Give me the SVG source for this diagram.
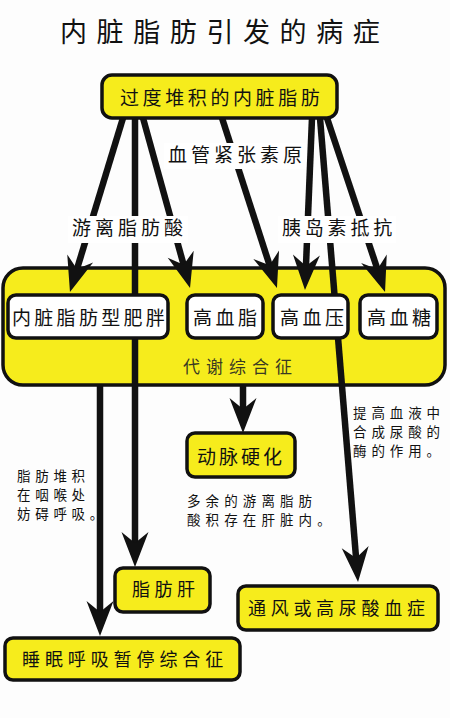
<svg xmlns="http://www.w3.org/2000/svg" width="450" height="718" viewBox="0 0 450 718">
<defs>
<style>
text{font-family:"Noto Sans CJK SC","Noto Sans",sans-serif;fill:#111;}
.ybox{fill:#f6ec1c;stroke:#111;stroke-width:3.5;}
.wbox{fill:#fff;stroke:#111;stroke-width:3.5;}
.t19{font-size:19px;letter-spacing:3.5px;}
.t18{font-size:18px;letter-spacing:4.7px;}
.t14{font-size:13.5px;letter-spacing:4.9px;}
.conn line{stroke:#111;stroke-width:6.5;marker-end:url(#ah);}
.lbg{fill:#fff;}
</style>
<marker id="ah" markerUnits="userSpaceOnUse" markerWidth="37" markerHeight="28" viewBox="-36 -14 37 28" refX="-20" refY="0" orient="auto">
<path d="M0,0 L-35,-13.5 L-24,0 L-35,13.5 Z" fill="#111"/>
</marker>
</defs>
<rect width="450" height="718" fill="#fdfdfd"/>

<text id="title" x="60" y="42" style="font-size:27px;letter-spacing:9.6px;">内脏脂肪引发的病症</text>

<g id="metabolic">
<rect class="ybox" x="3" y="268" width="442" height="117" rx="20"/>
<text x="183" y="373" style="font-size:17px;letter-spacing:6px;fill:#3a3a22;">代谢综合征</text>
</g>

<g id="connectors" class="conn">
<line x1="123" y1="118" x2="75.8" y2="272.9"/>
<line x1="135" y1="118" x2="135" y2="547"/>
<line x1="143" y1="118" x2="184.7" y2="268.7"/>
<line x1="222" y1="118" x2="270.8" y2="269"/>
<line x1="312" y1="118" x2="305.8" y2="270"/>
<line x1="320" y1="118" x2="356.4" y2="562"/>
<line x1="327" y1="118" x2="378.7" y2="273"/>
<line x1="100" y1="385" x2="100" y2="616"/>
<line x1="243" y1="385" x2="243" y2="413"/>
</g>

<g id="source">
<rect class="ybox" x="102" y="75" width="235" height="43" rx="10"/>
<text class="t19" x="120" y="105" style="letter-spacing:3.6px;">过度堆积的内脏脂肪</text>
</g>

<g id="label-angiotensinogen">
<rect class="lbg" x="164" y="143" width="142" height="26"/>
<text class="t19" x="168" y="162" style="letter-spacing:4px;">血管紧张素原</text>
</g>
<g id="label-ffa">
<rect class="lbg" x="68" y="216" width="120" height="27"/>
<text class="t19" x="72" y="235" style="letter-spacing:4px;">游离脂肪酸</text>
</g>
<g id="label-insulin">
<rect class="lbg" x="278" y="216" width="118" height="27"/>
<text class="t19" x="282" y="235" style="letter-spacing:3.8px;">胰岛素抵抗</text>
</g>

<g id="obesity">
<rect class="wbox" x="8" y="295" width="160" height="43" rx="8"/>
<text class="t19" x="12" y="325" style="letter-spacing:3.3px;">内脏脂肪型肥胖</text>
</g>
<g id="hyperlipidemia">
<rect class="wbox" x="187" y="295" width="76" height="43" rx="8"/>
<text class="t19" x="193" y="325">高血脂</text>
</g>
<g id="hypertension">
<rect class="wbox" x="273" y="295" width="75" height="43" rx="8"/>
<text class="t19" x="280" y="325">高血压</text>
</g>
<g id="hyperglycemia">
<rect class="wbox" x="360" y="295" width="77" height="43" rx="8"/>
<text class="t19" x="367" y="325">高血糖</text>
</g>

<g id="atherosclerosis">
<rect class="ybox" x="187" y="433" width="108" height="44" rx="8"/>
<text class="t19" x="197" y="464" style="letter-spacing:3px;">动脉硬化</text>
</g>

<g id="note-liver">
<text class="t14" style="letter-spacing:5.1px;"><tspan x="187" y="506">多余的游离脂肪</tspan><tspan x="187" y="525">酸积存在肝脏内。</tspan></text>
</g>
<g id="note-throat">
<text class="t14" style="letter-spacing:4.7px;"><tspan x="17" y="481">脂肪堆积</tspan><tspan x="17" y="500">在咽喉处</tspan><tspan x="17" y="519">妨碍呼吸。</tspan></text>
</g>
<g id="note-uric">
<text class="t14"><tspan x="353" y="418">提高血液中</tspan><tspan x="353" y="437">合成尿酸的</tspan><tspan x="353" y="456">酶的作用。</tspan></text>
</g>

<g id="fatty-liver">
<rect class="ybox" x="115" y="568" width="95" height="44" rx="8"/>
<text class="t18" x="132" y="596" style="letter-spacing:4.5px;">脂肪肝</text>
</g>
<g id="gout">
<rect class="ybox" x="238" y="586" width="200" height="44" rx="8"/>
<text class="t18" x="248" y="615">通风或高尿酸血症</text>
</g>
<g id="sleep-apnea">
<rect class="ybox" x="5" y="638" width="235" height="42" rx="8"/>
<text class="t18" x="22" y="666" style="letter-spacing:4.9px;">睡眠呼吸暂停综合征</text>
</g>
</svg>
